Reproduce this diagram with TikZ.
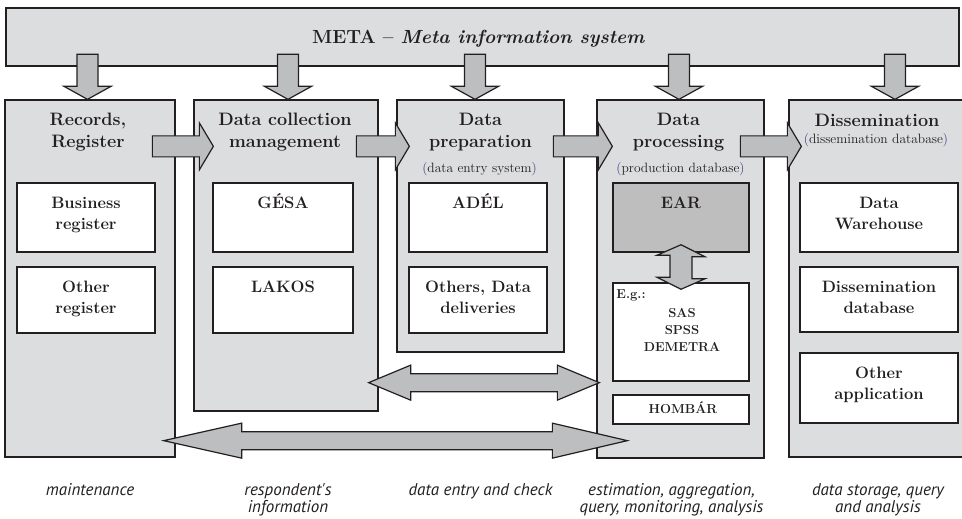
\documentclass[tikz,border=0pt]{standalone}
\usepackage{fontspec}
\newfontfamily\notefont{PT Sans}
\usetikzlibrary{positioning,calc}

\definecolor{ink}{HTML}{231F20}
\definecolor{colgray}{HTML}{DCDDDF}
\definecolor{arrgray}{HTML}{BDBEC0}
\definecolor{eargray}{HTML}{BEBEBE}
\definecolor{parcol}{HTML}{3B3B80}
\newcommand{\parn}[1]{{\color{parcol}(}#1{\color{parcol})}}

\begin{document}
\begin{tikzpicture}[x=1pt,y=-1pt,
  panel/.style={draw=ink,fill=colgray,line width=1.3pt,inner sep=0pt},
  ibox/.style={draw=ink,fill=white,line width=1.5pt,inner sep=0pt},
  blk/.style={draw=ink,fill=arrgray,line width=1.2pt,line join=miter},
  head/.style={font=\fontsize{18}{22}\selectfont\bfseries,align=center,anchor=base,text=ink,inner sep=0pt},
  sub/.style={font=\fontsize{13.5}{15}\selectfont,anchor=base,text=ink,inner sep=0pt},
  itxt/.style={font=\fontsize{16.5}{21}\selectfont\bfseries,align=center,anchor=base,text=ink,inner sep=0pt},
  small/.style={font=\fontsize{13}{17}\selectfont\bfseries,align=center,anchor=base,text=ink,inner sep=0pt},
  note/.style={font=\notefont\itshape\fontsize{17}{17}\selectfont,align=center,anchor=base,text=ink,inner sep=0pt}]
\useasboundingbox (0,0) rectangle (962,519);

% top bar
\node[panel,minimum width=953,minimum height=58] (meta) at (482.5,37) {};
\node[head,font=\fontsize{19}{22}\selectfont\bfseries] at ($(meta.south)+(-4,-23)$) {META – \textit{Meta information system}};

% columns
\foreach \n/\x/\y/\w/\h in {rec/90/278.5/170/357,dcm/286/255.5/184/311,prep/480.5/226/167/252,proc/680.5/279/167/358,diss/882/278.5/186/357}
  \node[panel,minimum width=\w,minimum height=\h] (\n) at (\x,\y) {};

% arrows from the top bar
\foreach \n/\dx in {rec/-2.5,dcm/2,prep/-5.5,proc/-1.5,diss/13}
  \draw[blk] ($(\n.north)+(\dx,0)$) -- ++(23.5,-13) -- ++(-13,0) -- ++(0,-32) -- ++(-21,0) -- ++(0,32) -- ++(-13,0) -- cycle;

% arrows between columns
\foreach \n/\dx/\l in {dcm/20/47,prep/13/39,proc/16/45,diss/13/47}
  \draw[blk] ($(\n.north west)+(\dx,47)$) -- ++(-14,-23.5) -- ++(0,13) -- ++(-\l,0) -- ++(0,21) -- ++(\l,0) -- ++(0,13) -- cycle;

% inner boxes
\foreach \n/\x/\y/\w/\h in {busreg/86/217.5/138/69,othreg/86/300/138/66,gesa/283/217.5/140/69,lakos/283/300/140/66,adel/478/217.5/138/69,others/478/300/138/66,eg/681/332/136/98,hombar/681/409.5/136/29,dw/879/217.5/158/69,ddb/879/299.5/158/65,oapp/879/388/158/70}
  \node[ibox,minimum width=\w,minimum height=\h] (\n) at (\x,\y) {};
\node[ibox,fill=eargray,minimum width=136,minimum height=69] (ear) at (681,217.5) {};

% EAR <-> tools
\draw[blk] ($(ear.south)+(0,-8)$) -- ++(24,12) -- ++(-13,0) -- ++(0,22) -- ++(13,0) -- ($(eg.north)+(0,7)$) -- ++(-24,-12) -- ++(13,0) -- ++(0,-22) -- ++(-13,0) -- cycle;

% box texts (base = last line)
\foreach \n/\o/\t in {busreg/47.5/{Business\\register},othreg/47.5/{Other\\register},gesa/26.5/GÉSA,lakos/26.5/LAKOS,adel/26.5/ADÉL,others/47.5/{Others, Data\\deliveries},ear/26.5/EAR,dw/47.5/{Data\\Warehouse},ddb/47.5/{Dissemination\\database},oapp/47.5/{Other\\application}}
  \node[itxt] at ($(\n.north)+(0,\o)$) {\t};

\node[small,anchor=base west] at ($(eg.north west)+(4,16)$) {E.g.:};
\node[small] at ($(eg.north)+(1,69)$) {SAS\\SPSS\\DEMETRA};
\node[small] at ($(hombar.south)+(2,-11)$) {HOMBÁR};

% long double arrows
\coordinate (a1) at ($(dcm.south east)+(-10,-29)$);
\coordinate (a2) at ($(proc.south west)+(3,-76)$);
\coordinate (b1) at ($(rec.south east)+(-12,-17)$);
\coordinate (b2) at ($(proc.south west)+(31,-18)$);
\foreach \s/\t/\hl/\hr in {a1/a2/42/42,b1/b2/78/75}
  \draw[blk] (\s) -- ++(\hl,-17.5) -- ++(0,8.5) -- ($(\t)+(-\hr,-9)$) -- ++(0,-8.5) -- (\t) -- ++(-\hr,17.5) -- ++(0,-8.5) -- ($(\s)+(\hl,9)$) -- ++(0,8.5) -- cycle;

% column headings
\node[head] at ($(rec.north)+(-2,48)$) {Records,\\Register};
\node[head] at ($(dcm.north)+(-1,48)$) {Data collection\\management};
\node[head] at ($(prep.north)+(0,48)$) {Data\\preparation};
\node[sub] at ($(prep.north)+(-1,73)$) {\parn{data entry system}};
\node[head] at ($(proc.north)+(-2,48)$) {Data\\processing};
\node[sub] at ($(proc.north)+(0,73)$) {\parn{production database}};
\node[head] at ($(diss.north)+(-5,27)$) {Dissemination};
\node[sub] at ($(diss.north)+(-6,44)$) {\parn{dissemination database}};

% tasks below
\node[note] at ($(rec.south)+(0,38)$) {maintenance};
\node[note] at ($(dcm.south)+(2,101)$) {respondent\textquotesingle s\\information};
\node[note] at ($(prep.south)+(0,143)$) {data entry and check};
\node[note] at ($(proc.south)+(-9,54)$) {estimation, aggregation,\\query, monitoring, analysis};
\node[note] at ($(diss.south)+(-4,55)$) {data storage, query\\and analysis};
\end{tikzpicture}
\end{document}
